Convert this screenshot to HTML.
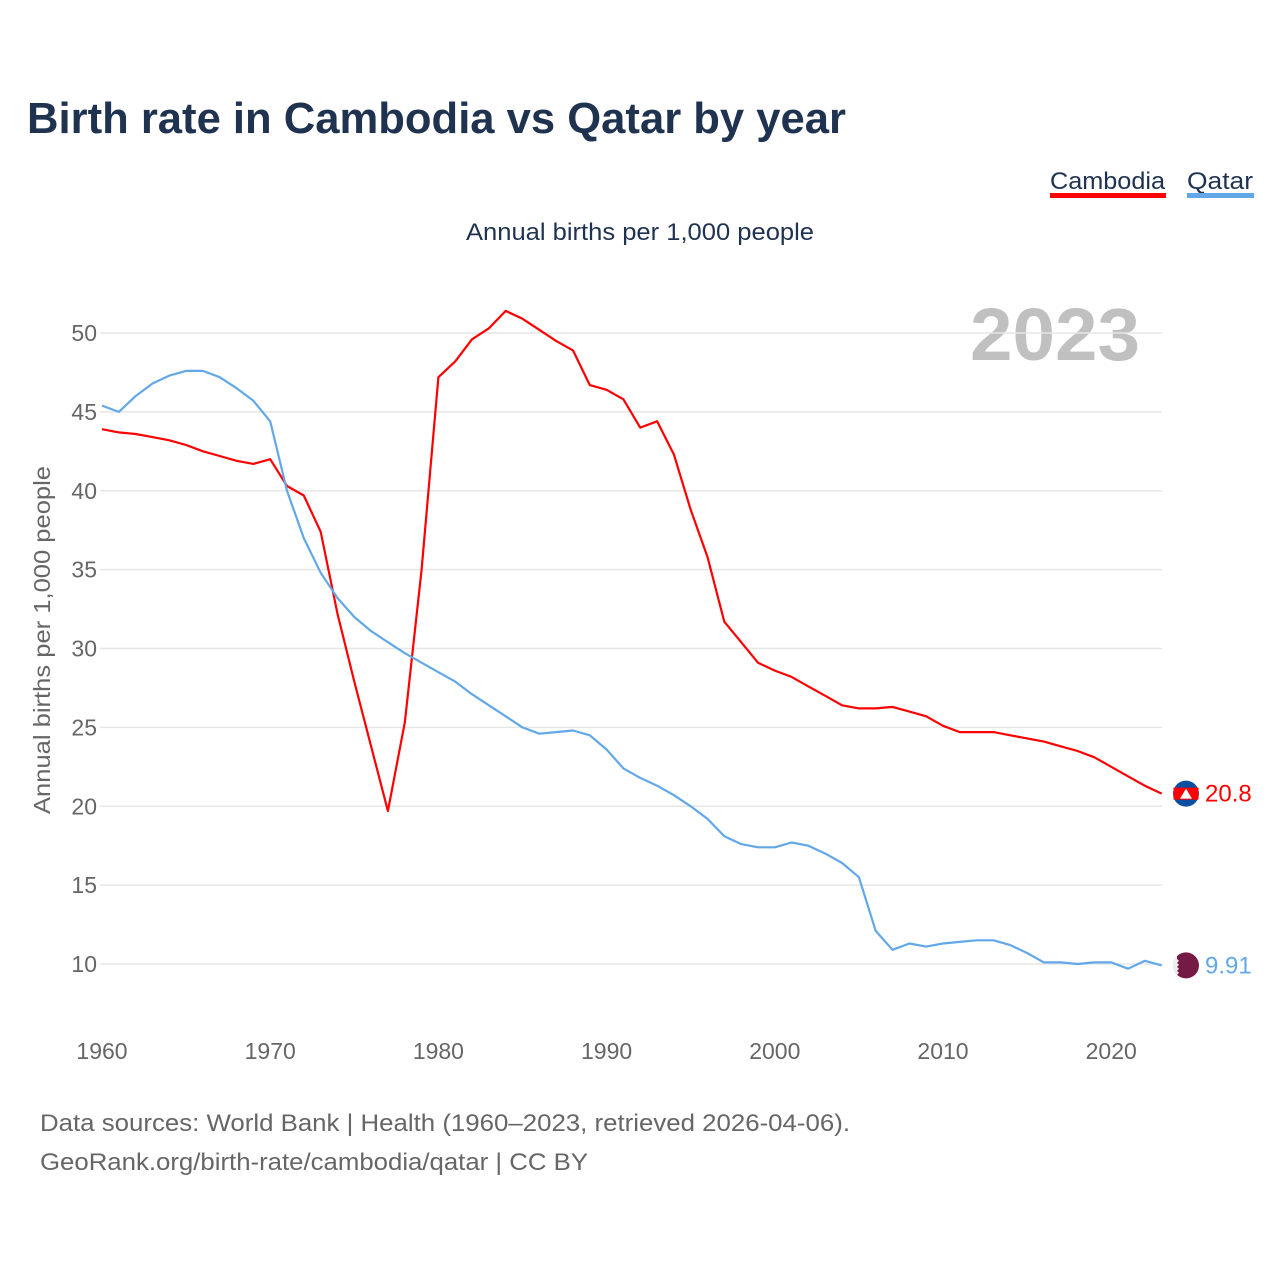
<!DOCTYPE html>
<html><head><meta charset="utf-8"><style>
body{margin:0;background:#fff;font-family:"Liberation Sans",sans-serif;}
</style></head><body>
<svg id="chart" width="1280" height="1280" xmlns="http://www.w3.org/2000/svg" style="display:block">
<text x="27" y="133" font-size="44" font-weight="bold" fill="#1f3250" textLength="819" lengthAdjust="spacingAndGlyphs">Birth rate in Cambodia vs Qatar by year</text>
<g><text x="1050" y="189" font-size="24" fill="#1f3250" textLength="115" lengthAdjust="spacingAndGlyphs">Cambodia</text><rect x="1050" y="193" width="116" height="5" fill="#ff0000"/></g>
<g><text x="1187" y="189" font-size="24" fill="#1f3250" textLength="66" lengthAdjust="spacingAndGlyphs">Qatar</text><rect x="1187" y="193" width="67" height="5" fill="#62a8e8"/></g>
<text x="466" y="240" font-size="24" fill="#1f3250" textLength="348" lengthAdjust="spacingAndGlyphs">Annual births per 1,000 people</text>
<text x="1140" y="360" font-size="74" font-weight="bold" fill="#c0c0c0" text-anchor="end" textLength="170" lengthAdjust="spacingAndGlyphs">2023</text>
<text transform="translate(50,640) rotate(-90)" font-size="23" fill="#666" text-anchor="middle" textLength="348" lengthAdjust="spacingAndGlyphs">Annual births per 1,000 people</text>
<g id="grid"></g><g id="yticks"></g><g id="xticks"></g><g id="lines"></g>
<text x="40" y="1131" font-size="24" fill="#666" textLength="810" lengthAdjust="spacingAndGlyphs">Data sources: World Bank | Health (1960–2023, retrieved 2026-04-06).</text>
<text x="40" y="1170" font-size="24" fill="#666" textLength="548" lengthAdjust="spacingAndGlyphs">GeoRank.org/birth-rate/cambodia/qatar | CC BY</text>
</svg>
<script>
const years=[];for(let y=1960;y<=2023;y++)years.push(y);
const cambodia=[43.9,43.7,43.6,43.4,43.2,42.9,42.5,42.2,41.9,41.7,42.0,40.3,39.7,37.4,32.2,27.9,23.8,19.7,25.3,35.0,47.2,48.2,49.6,50.3,51.4,50.9,50.2,49.5,48.9,46.7,46.4,45.8,44.0,44.4,42.3,38.8,35.8,31.7,30.4,29.1,28.6,28.2,27.6,27.0,26.4,26.2,26.2,26.3,26.0,25.7,25.1,24.7,24.7,24.7,24.5,24.3,24.1,23.8,23.5,23.1,22.5,21.9,21.3,20.8];
const qatar=[45.4,45.0,46.0,46.8,47.3,47.6,47.6,47.2,46.5,45.7,44.4,40.0,37.0,34.8,33.2,32.0,31.1,30.4,29.7,29.1,28.5,27.9,27.1,26.4,25.7,25.0,24.6,24.7,24.8,24.5,23.6,22.4,21.8,21.3,20.7,20.0,19.2,18.1,17.6,17.4,17.4,17.7,17.5,17.0,16.4,15.5,12.1,10.9,11.3,11.1,11.3,11.4,11.5,11.5,11.2,10.7,10.1,10.1,10.0,10.1,10.1,9.7,10.2,9.91];
const yTicks=[10,15,20,25,30,35,40,45,50];
const xTicks=[1960,1970,1980,1990,2000,2010,2020];
const xS=y=>102+(y-1960)*16.82;
const yS=v=>964-(v-10)*15.775;
const NS="http://www.w3.org/2000/svg";
function mk(tag,attrs,parent){const e=document.createElementNS(NS,tag);for(const k in attrs)e.setAttribute(k,attrs[k]);document.getElementById(parent).appendChild(e);return e;}
yTicks.forEach(t=>{
 const l=mk('line',{x1:100,x2:1162,y1:yS(t),y2:yS(t),stroke:'#e6e6e6','stroke-width':1.5},'grid');
 
 
 const tx=mk('text',{x:97,y:yS(t)+8,'font-size':23,fill:'#666','text-anchor':'end'},'yticks');tx.textContent=t;
 
 
});
xTicks.forEach(t=>{
 const tx=mk('text',{x:xS(t),y:1059,'font-size':23,fill:'#666','text-anchor':'middle'},'xticks');tx.textContent=t;
 
 
});
function series(vals,color,name,label){
 const d=vals.map((v,i)=>(i?'L':'M')+xS(years[i]).toFixed(1)+','+yS(v).toFixed(1)).join('');
 const p=mk('path',{d:d,fill:'none',stroke:color,'stroke-width':2.2,'stroke-linejoin':'round'},'lines');
 
 
 const last=vals[vals.length-1],ly=yS(last);
 const c=mk('circle',{cx:1186,cy:ly,r:13,fill:name==='cambodia'?'#0b4ea2':'#751a45'},'lines');
 
 
 if(name==='cambodia'){mk('rect',{x:1173.5,y:ly-6,width:25,height:12,fill:'#ff0000'},'lines');mk('polygon',{points:(1180)+','+(ly+5)+' 1192,'+(ly+5)+' 1186,'+(ly-5),fill:'#fff'},'lines');}
 else{mk('path',{d:'M1177,'+(ly-9.5)+'a13,13 0 0 0 0,19l2,-2-2,-2 2,-2-2,-2 2,-2-2,-2 2,-2-2,-2z',fill:'#eee'},'lines');}
 const t=mk('text',{x:1205,y:ly+8,'font-size':24,fill:color},'lines');t.textContent=label;
 
 
}
series(cambodia,'#ff0000','cambodia','20.8');
series(qatar,'#62a8e8','qatar','9.91');
</script>
</body></html>
